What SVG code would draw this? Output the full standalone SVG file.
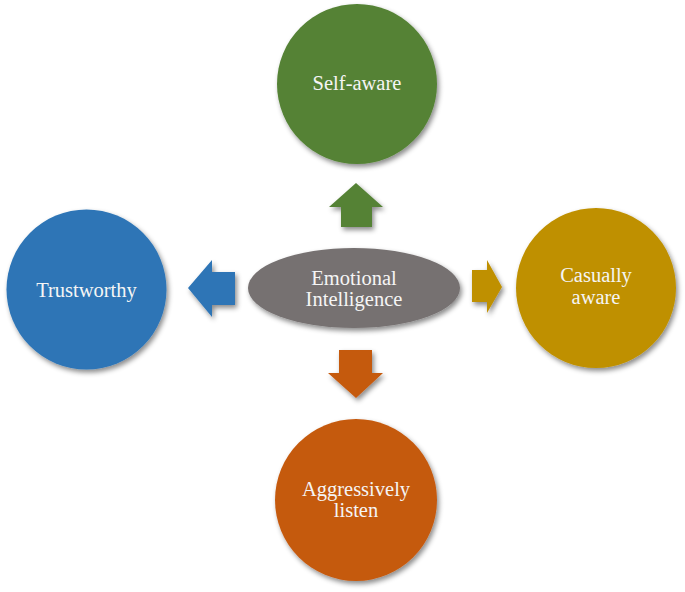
<svg xmlns="http://www.w3.org/2000/svg" width="685" height="592" viewBox="0 0 685 592">
<defs>
<filter id="sh" x="-20%" y="-20%" width="140%" height="140%">
<feDropShadow dx="2" dy="3" stdDeviation="2.5" flood-color="#000" flood-opacity="0.45"/>
</filter>
<style>
.lbl{font-size:20.5px;fill:#f5f5f5;text-anchor:middle}
.n{filter:url(#sh)}
</style>
</defs>
<rect width="685" height="592" fill="#ffffff"/>
<g id="connectors">
<polygon class="n" fill="#548235" points="356,183 383,207 372,207 372,227 341,227 341,207 329,207"/>
<polygon class="n" fill="#2e75b6" points="188,288 212,260 212,272 235,272 235,305 212,305 212,317"/>
<polygon class="n" fill="#bf9000" points="502,287 487,260 487,270 472,270 472,302 487,302 487,313"/>
<polygon class="n" fill="#c55a11" points="356,398 383,373 372,373 372,350 339,350 339,373 328,373"/>
</g>
<g font-family="'Liberation Serif', 'DejaVu Serif', serif">
<g id="center">
<ellipse class="n" cx="354" cy="288" rx="106" ry="40" fill="#767171"/>
<text class="lbl" x="354" y="285">Emotional</text>
<text class="lbl" x="354" y="306">Intelligence</text>
</g>
<g id="self-aware">
<circle class="n" cx="357" cy="84" r="80" fill="#548235"/>
<text class="lbl" x="357" y="90">Self-aware</text>
</g>
<g id="trustworthy">
<circle class="n" cx="86.5" cy="289.5" r="80" fill="#2e75b6"/>
<text class="lbl" x="86.5" y="297">Trustworthy</text>
</g>
<g id="casually-aware">
<circle class="n" cx="596" cy="288" r="80" fill="#bf9000"/>
<text class="lbl" x="596" y="282">Casually</text>
<text class="lbl" x="596" y="304">aware</text>
</g>
<g id="aggressively-listen">
<circle class="n" cx="356" cy="500" r="81" fill="#c55a11"/>
<text class="lbl" x="356" y="496">Aggressively</text>
<text class="lbl" x="356" y="517">listen</text>
</g>
</g>
</svg>
